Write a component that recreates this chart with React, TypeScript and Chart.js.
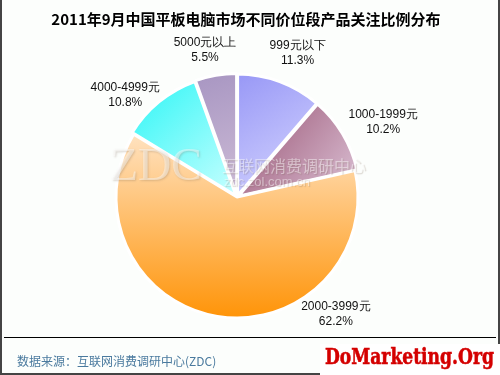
import React, { useEffect, useRef } from "react";
import { Chart, registerables } from "chart.js";

Chart.register(...registerables);

// ---- data ----
const categories = ["999元以下", "1000-1999元", "2000-3999元", "4000-4999元", "5000元以上"];
const shares = [11.3, 10.2, 62.2, 10.8, 5.5];
const shareLabels = ["11.3%", "10.2%", "62.2%", "10.8%", "5.5%"];

// ---- styles ----
const sliceOffsets = [6, 6, 0, 6, 6];
const gradientStops: string[][] = [
  ["#9898f6", "#d8d8ff"],
  ["#985272", "#dcc2d6"],
  ["#ffe2c0", "#ff9408"],
  ["#2ef6f6", "#c8ffff"],
  ["#a896c2", "#cdbcd6"],
];
// label placement tweaks relative to each slice's mid angle (degrees, distance px)
const labelNudge: number[][] = [
  [2.5, 156],
  [4, 164],
  [-49.6, 153],
  [-8.5, 151],
  [-2.4, 150],
];
const PIE_RADIUS = 121;

function sliceGradient(ctx: any) {
  const chart = ctx.chart;
  const i = ctx.dataIndex;
  const area = chart.chartArea;
  if (!area || i === undefined || i === null) return gradientStops[0][0];
  const c = chart.ctx as CanvasRenderingContext2D;
  const cx = (area.left + area.right) / 2;
  const cy = (area.top + area.bottom) / 2;
  const total = shares.reduce((a, b) => a + b, 0);
  let acc = 0;
  for (let k = 0; k < i; k++) acc += shares[k];
  const a0 = -Math.PI / 2 + (acc / total) * 2 * Math.PI;
  const a1 = a0 + (shares[i] / total) * 2 * Math.PI;
  let minX = cx, maxX = cx, minY = cy, maxY = cy;
  for (let t = 0; t <= 40; t++) {
    const a = a0 + ((a1 - a0) * t) / 40;
    const x = cx + PIE_RADIUS * Math.cos(a);
    const y = cy + PIE_RADIUS * Math.sin(a);
    minX = Math.min(minX, x); maxX = Math.max(maxX, x);
    minY = Math.min(minY, y); maxY = Math.max(maxY, y);
  }
  const g = shares[i] > 50
    ? c.createLinearGradient(cx, minY, cx, maxY)
    : c.createLinearGradient(minX, minY, maxX, maxY);
  g.addColorStop(0, gradientStops[i][0]);
  g.addColorStop(1, gradientStops[i][1]);
  return g;
}

const labelPlugin = {
  id: "sliceLabels",
  afterDatasetsDraw(chart: any) {
    const meta = chart.getDatasetMeta(0);
    const c = chart.ctx as CanvasRenderingContext2D;
    const area = chart.chartArea;
    const cx = (area.left + area.right) / 2;
    const cy = (area.top + area.bottom) / 2;
    c.save();
    c.font = '12px "Liberation Sans", Arial, sans-serif';
    c.fillStyle = "#111";
    c.textAlign = "center";
    c.textBaseline = "middle";
    meta.data.forEach((arc: any, i: number) => {
      const p = arc.getProps(["startAngle", "endAngle"], true);
      const mid = (p.startAngle + p.endAngle) / 2 + (labelNudge[i][0] * Math.PI) / 180;
      const d = labelNudge[i][1];
      const x = cx + Math.cos(mid) * d;
      const y = cy + Math.sin(mid) * d;
      c.fillText(categories[i], x, y - 7.5);
      c.fillText(shareLabels[i], x, y + 7.5);
    });
    c.restore();
  },
};

export default function App() {
  const ref = useRef<HTMLCanvasElement>(null);
  useEffect(() => {
    if (!ref.current) return;
    const chart = new Chart(ref.current, {
      type: "pie",
      data: {
        labels: categories,
        datasets: [
          {
            data: shares,
            backgroundColor: sliceGradient as any,
            borderColor: "#ffffff",
            borderWidth: 3,
            offset: sliceOffsets,
            radius: PIE_RADIUS,
          } as any,
        ],
      },
      options: {
        responsive: false,
        animation: false,
        events: [],
        layout: { padding: { left: 100, right: 126, top: 80, bottom: 61 } },
        plugins: {
          legend: { display: false },
          tooltip: { enabled: false },
          title: { display: false },
        },
      },
      plugins: [labelPlugin],
    });
    return () => chart.destroy();
  }, []);

  const cjk = '"Noto Sans CJK SC", "Noto Sans", sans-serif';
  return (
    <div
      style={{
        position: "absolute",
        left: 0,
        top: 0,
        width: 500,
        height: 375,
        background: "#fcfefc",
        boxSizing: "border-box",
        overflow: "hidden",
      }}
    >
      <canvas ref={ref} width={500} height={375} style={{ position: "absolute", left: 0, top: 0 }} />
      {/* frame */}
      <div style={{ position: "absolute", left: 0, top: 0, width: 2, height: 375, background: "#444" }} />
      <div style={{ position: "absolute", right: 0, top: 0, width: 2, height: 375, background: "#444" }} />
      <div style={{ position: "absolute", left: 0, bottom: 0, width: 500, height: 2, background: "#444" }} />
      {/* title */}
      <div
        style={{
          position: "absolute",
          left: 0,
          top: 8,
          width: 492,
          textAlign: "center",
          font: `bold 15px ${cjk}`,
          lineHeight: "22px",
          color: "#000",
          whiteSpace: "nowrap",
        }}
      >
        2011年9月中国平板电脑市场不同价位段产品关注比例分布
      </div>
      {/* watermark */}
      <div
        style={{
          position: "absolute",
          left: 110,
          top: 140,
          font: '46px "Liberation Serif", serif',
          lineHeight: "50px",
          color: "rgba(255,255,255,0.45)",
          textShadow: "1px 1px 2px rgba(120,100,80,0.25)",
          whiteSpace: "nowrap",
        }}
      >
        ZDC
      </div>
      <div
        style={{
          position: "absolute",
          left: 222,
          top: 155,
          font: `16px ${cjk}`,
          lineHeight: "20px",
          color: "rgba(255,255,255,0.45)",
          textShadow: "1px 1px 1px rgba(120,100,80,0.25)",
          whiteSpace: "nowrap",
        }}
      >
        互联网消费调研中心
      </div>
      <div
        style={{
          position: "absolute",
          left: 224,
          top: 174,
          font: '13px "Liberation Sans", sans-serif',
          lineHeight: "16px",
          color: "rgba(255,255,255,0.45)",
          textShadow: "1px 1px 1px rgba(120,100,80,0.25)",
          whiteSpace: "nowrap",
        }}
      >
        zdc.zol.com.cn
      </div>
      {/* footer rule */}
      <div style={{ position: "absolute", left: 4, top: 337, width: 492, height: 1, background: "#000" }} />
      {/* source */}
      <div
        style={{
          position: "absolute",
          left: 17,
          top: 352,
          font: `12px ${cjk}`,
          lineHeight: "18px",
          color: "#4a7a9e",
          whiteSpace: "nowrap",
        }}
      >
        数据来源：互联网消费调研中心(ZDC)
      </div>
      {/* site mark */}
      <div
        style={{
          position: "absolute",
          left: 320,
          top: 344,
          width: 180,
          height: 31,
          background: "#ffffff",
        }}
      />
      <div
        style={{
          position: "absolute",
          left: 325,
          top: 341,
          font: 'bold 23px "DejaVu Serif", serif',
          lineHeight: "30px",
          color: "#d40000",
          whiteSpace: "nowrap",
          transform: "scaleX(0.745)",
          transformOrigin: "0 0",
          WebkitTextStroke: "0.6px #d40000",
        }}
      >
        DoMarketing.Org
      </div>
    </div>
  );
}
